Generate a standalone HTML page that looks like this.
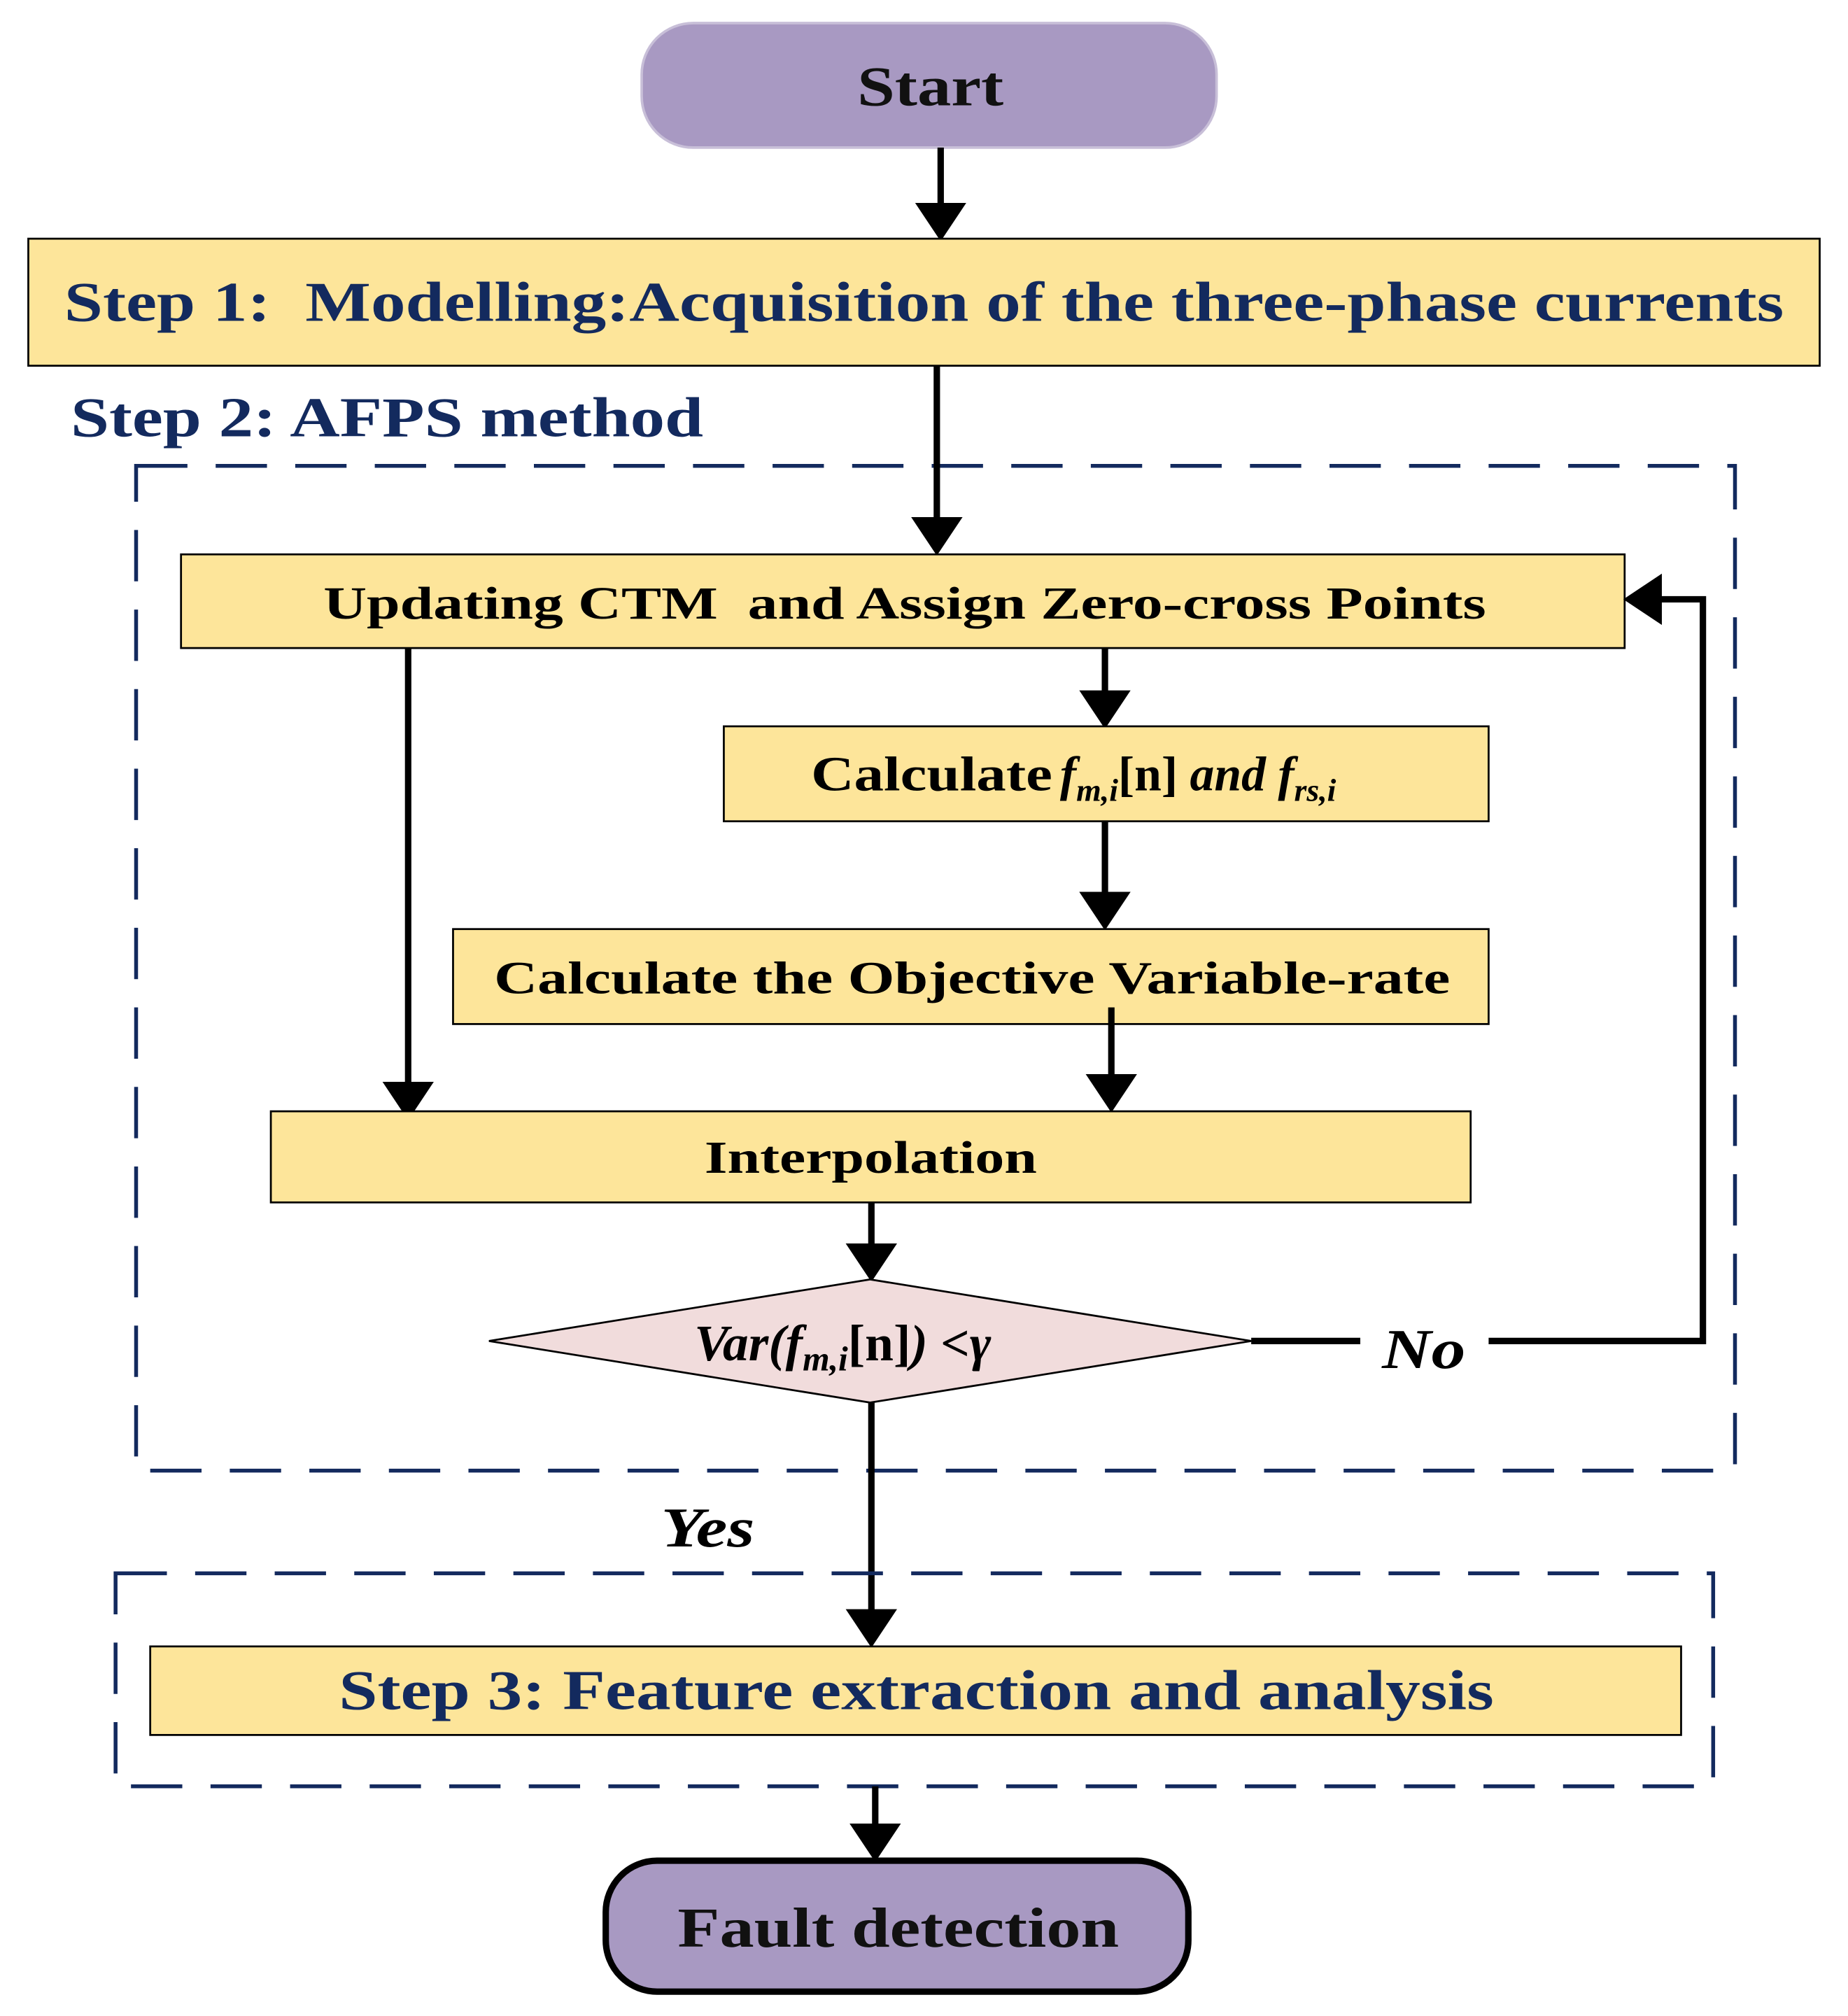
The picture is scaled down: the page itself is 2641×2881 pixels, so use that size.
<!DOCTYPE html>
<html><head><meta charset="utf-8"><style>
html,body{margin:0;padding:0;background:#fff;}
svg{display:block;}
text{font-family:"Liberation Serif",serif;font-weight:bold;}
</style></head><body>
<svg width="2641" height="2881" viewBox="0 0 1440 1571" xmlns="http://www.w3.org/2000/svg">
<defs>
<marker id="a" markerWidth="6" markerHeight="8" refX="5" refY="4" orient="auto" markerUnits="strokeWidth">
<path d="M0,0 L6,4 L0,8 z" fill="#000"/></marker>
</defs>
<rect width="1440" height="1571" fill="#fff"/>
<rect x="500" y="18" width="448" height="97" rx="40" fill="#a899c2" stroke="#c8bfd8" stroke-width="2"/>
<text x="668" y="82" font-size="44" textLength="114" lengthAdjust="spacingAndGlyphs" fill="#111">Start</text>
<line x1="733" y1="115" x2="733" y2="183" stroke="#000" stroke-width="5" marker-end="url(#a)"/>
<rect x="22" y="186" width="1396" height="99" fill="#fde59a" stroke="#000" stroke-width="1.5"/>
<text x="50" y="250" font-size="44" textLength="1340" lengthAdjust="spacingAndGlyphs" fill="#132a5e" xml:space="preserve">Step 1:  Modelling:Acquisition of the three-phase currents</text>
<text x="55" y="340" font-size="44" textLength="493" lengthAdjust="spacingAndGlyphs" fill="#132a5e">Step 2: AFPS method</text>
<rect x="106" y="363" width="1246" height="783" fill="none" stroke="#132a5e" stroke-width="3" stroke-dasharray="40 22"/>
<line x1="730" y1="285" x2="730" y2="428" stroke="#000" stroke-width="5" marker-end="url(#a)"/>
<rect x="141" y="432" width="1125" height="73" fill="#fde59a" stroke="#000" stroke-width="1.5"/>
<text x="252" y="482" font-size="36" textLength="906" lengthAdjust="spacingAndGlyphs" fill="#000" xml:space="preserve">Updating CTM  and Assign Zero-cross Points</text>
<line x1="318" y1="505" x2="318" y2="868" stroke="#000" stroke-width="5" marker-end="url(#a)"/>
<line x1="861" y1="505" x2="861" y2="563" stroke="#000" stroke-width="5" marker-end="url(#a)"/>
<rect x="564" y="566" width="596" height="74" fill="#fde59a" stroke="#000" stroke-width="1.5"/>
<text x="632" y="616" font-size="38" fill="#000"><tspan textLength="188" lengthAdjust="spacingAndGlyphs">Calculate</tspan><tspan x="826" font-style="italic">f</tspan><tspan font-style="italic" font-size="25" dy="8">m,i</tspan><tspan dy="-8">[n] </tspan><tspan font-style="italic">and f</tspan><tspan font-style="italic" font-size="25" dy="8">rs,i</tspan></text>
<line x1="861" y1="640" x2="861" y2="720" stroke="#000" stroke-width="5" marker-end="url(#a)"/>
<rect x="353" y="724" width="807" height="74" fill="#fde59a" stroke="#000" stroke-width="1.5"/>
<text x="385" y="774" font-size="36" textLength="745" lengthAdjust="spacingAndGlyphs" fill="#000">Calculate the Objective Variable-rate</text>
<line x1="866" y1="785" x2="866" y2="862" stroke="#000" stroke-width="5" marker-end="url(#a)"/>
<rect x="211" y="866" width="935" height="71" fill="#fde59a" stroke="#000" stroke-width="1.5"/>
<text x="549" y="914" font-size="36" textLength="259" lengthAdjust="spacingAndGlyphs" fill="#000">Interpolation</text>
<line x1="679" y1="937" x2="679" y2="994" stroke="#000" stroke-width="5" marker-end="url(#a)"/>
<polygon points="381,1045 678,997 975,1045 678,1093" fill="#f1dcdc" stroke="#000" stroke-width="1.5"/>
<text x="541" y="1060" font-size="40" fill="#000"><tspan font-style="italic">Var(f</tspan><tspan font-style="italic" font-size="27" dy="8">m,i</tspan><tspan dy="-8">[n]</tspan><tspan font-style="italic">) &lt;γ</tspan></text>
<polyline points="975,1045 1060,1045" fill="none" stroke="#000" stroke-width="5"/>
<text x="1077" y="1066" font-size="44" font-style="italic" textLength="65" lengthAdjust="spacingAndGlyphs" fill="#000">No</text>
<polyline points="1160,1045 1327,1045 1327,467 1270,467" fill="none" stroke="#000" stroke-width="5" marker-end="url(#a)"/>
<text x="515" y="1205" font-size="44" font-style="italic" textLength="73" lengthAdjust="spacingAndGlyphs" fill="#000">Yes</text>
<line x1="679" y1="1093" x2="679" y2="1279" stroke="#000" stroke-width="5" marker-end="url(#a)"/>
<rect x="90" y="1226" width="1245" height="166" fill="none" stroke="#132a5e" stroke-width="3" stroke-dasharray="40 22"/>
<rect x="117" y="1283" width="1193" height="69" fill="#fde59a" stroke="#000" stroke-width="1.5"/>
<text x="264" y="1332" font-size="44" textLength="900" lengthAdjust="spacingAndGlyphs" fill="#132a5e">Step 3: Feature extraction and analysis</text>
<line x1="682" y1="1392" x2="682" y2="1446" stroke="#000" stroke-width="5" marker-end="url(#a)"/>
<rect x="472" y="1450" width="454" height="102" rx="40" fill="#a899c2" stroke="#000" stroke-width="5"/>
<text x="528" y="1517" font-size="44" textLength="344" lengthAdjust="spacingAndGlyphs" fill="#111">Fault detection</text>
</svg>
</body></html>
